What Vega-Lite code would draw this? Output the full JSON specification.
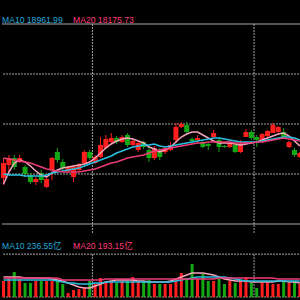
{
"$schema": "https://vega.github.io/schema/vega-lite/v6.json",
"background": "black",
"padding": 0,
"spacing": 0,
"config": {"view": {"stroke": null}, "scale": {"continuousPadding": 0}},
"datasets": {
"k": [
{"i":0,"d":"up","o":16920,"h":17320,"l":16780,"c":17220,"v":224,"m5":16800,"m10":17000,"m20":17320,"v5":280,"v10":238,"v20":266},
{"i":1,"d":"up","o":17180,"h":17380,"l":17040,"c":17320,"v":266,"m5":17040,"m10":16980,"m20":17300,"v5":280,"v10":238,"v20":266},
{"i":2,"d":"down","o":17320,"h":17380,"l":17080,"c":17140,"v":350,"m5":17220,"m10":16980,"m20":17280,"v5":280,"v10":238,"v20":266},
{"i":3,"d":"up","o":17240,"h":17380,"l":17220,"c":17320,"v":252,"m5":17280,"m10":16980,"m20":17260,"v5":280,"v10":238,"v20":266},
{"i":4,"d":"down","o":17140,"h":17180,"l":16940,"c":17000,"v":196,"m5":17240,"m10":16960,"m20":17240,"v5":266,"v10":238,"v20":266},
{"i":5,"d":"down","o":16980,"h":17020,"l":16800,"c":16840,"v":196,"m5":17160,"m10":16960,"m20":17220,"v5":266,"v10":238,"v20":266},
{"i":6,"d":"up","o":16840,"h":16940,"l":16780,"c":16900,"v":224,"m5":17060,"m10":16960,"m20":17180,"v5":266,"v10":238,"v20":266},
{"i":7,"d":"down","o":17020,"h":17080,"l":16820,"c":16880,"v":224,"m5":16980,"m10":16960,"m20":17140,"v5":266,"v10":238,"v20":266},
{"i":8,"d":"up","o":16740,"h":16940,"l":16720,"c":16900,"v":224,"m5":16940,"m10":16980,"m20":17100,"v5":266,"v10":238,"v20":266},
{"i":9,"d":"up","o":17080,"h":17340,"l":16880,"c":17320,"v":224,"m5":17020,"m10":17020,"m20":17080,"v5":252,"v10":238,"v20":266},
{"i":10,"d":"down","o":17440,"h":17520,"l":17220,"c":17280,"v":224,"m5":17080,"m10":17040,"m20":17060,"v5":238,"v10":224,"v20":266},
{"i":11,"d":"down","o":17240,"h":17300,"l":17080,"c":17120,"v":182,"m5":17120,"m10":17060,"m20":17040,"v5":224,"v10":210,"v20":238},
{"i":12,"d":"up","o":17060,"h":17160,"l":17020,"c":17140,"v":56,"m5":17140,"m10":17080,"m20":17040,"v5":196,"v10":196,"v20":238},
{"i":13,"d":"up","o":16940,"h":17180,"l":16840,"c":17140,"v":98,"m5":17160,"m10":17100,"m20":17040,"v5":168,"v10":196,"v20":238},
{"i":14,"d":"up","o":17080,"h":17220,"l":17040,"c":17180,"v":112,"m5":17180,"m10":17120,"m20":17040,"v5":140,"v10":182,"v20":238},
{"i":15,"d":"up","o":17220,"h":17480,"l":17180,"c":17440,"v":126,"m5":17200,"m10":17160,"m20":17060,"v5":126,"v10":182,"v20":238},
{"i":16,"d":"down","o":17440,"h":17480,"l":17280,"c":17320,"v":224,"m5":17240,"m10":17200,"m20":17080,"v5":126,"v10":182,"v20":238},
{"i":17,"d":"up","o":17220,"h":17380,"l":17200,"c":17340,"v":182,"m5":17320,"m10":17240,"m20":17100,"v5":154,"v10":196,"v20":238},
{"i":18,"d":"up","o":17340,"h":17740,"l":17320,"c":17580,"v":266,"m5":17420,"m10":17280,"m20":17140,"v5":182,"v10":196,"v20":238},
{"i":19,"d":"up","o":17520,"h":17780,"l":17500,"c":17700,"v":224,"m5":17520,"m10":17320,"m20":17180,"v5":210,"v10":210,"v20":252},
{"i":20,"d":"up","o":17640,"h":17820,"l":17620,"c":17720,"v":224,"m5":17600,"m10":17360,"m20":17220,"v5":224,"v10":210,"v20":252},
{"i":21,"d":"down","o":17720,"h":17760,"l":17600,"c":17640,"v":196,"m5":17660,"m10":17420,"m20":17240,"v5":238,"v10":210,"v20":252},
{"i":22,"d":"up","o":17640,"h":17780,"l":17620,"c":17740,"v":224,"m5":17700,"m10":17460,"m20":17280,"v5":238,"v10":210,"v20":252},
{"i":23,"d":"down","o":17780,"h":17820,"l":17540,"c":17580,"v":224,"m5":17720,"m10":17500,"m20":17320,"v5":238,"v10":210,"v20":252},
{"i":24,"d":"up","o":17580,"h":17700,"l":17560,"c":17660,"v":280,"m5":17700,"m10":17540,"m20":17340,"v5":238,"v10":210,"v20":252},
{"i":25,"d":"up","o":17480,"h":17660,"l":17440,"c":17620,"v":224,"m5":17660,"m10":17560,"m20":17360,"v5":224,"v10":210,"v20":252},
{"i":26,"d":"down","o":17640,"h":17660,"l":17500,"c":17540,"v":224,"m5":17620,"m10":17580,"m20":17380,"v5":224,"v10":210,"v20":252},
{"i":27,"d":"down","o":17480,"h":17540,"l":17240,"c":17320,"v":238,"m5":17540,"m10":17580,"m20":17420,"v5":210,"v10":210,"v20":252},
{"i":28,"d":"up","o":17320,"h":17560,"l":17280,"c":17520,"v":182,"m5":17500,"m10":17600,"m20":17460,"v5":210,"v10":210,"v20":252},
{"i":29,"d":"down","o":17480,"h":17520,"l":17280,"c":17340,"v":182,"m5":17440,"m10":17560,"m20":17480,"v5":210,"v10":210,"v20":252},
{"i":30,"d":"up","o":17440,"h":17540,"l":17400,"c":17520,"v":182,"m5":17480,"m10":17540,"m20":17500,"v5":210,"v10":210,"v20":252},
{"i":31,"d":"up","o":17480,"h":17640,"l":17460,"c":17580,"v":182,"m5":17540,"m10":17560,"m20":17520,"v5":224,"v10":210,"v20":252},
{"i":32,"d":"up","o":17680,"h":18020,"l":17620,"c":17940,"v":266,"m5":17640,"m10":17580,"m20":17540,"v5":252,"v10":224,"v20":252},
{"i":33,"d":"up","o":17940,"h":18040,"l":17920,"c":18000,"v":336,"m5":17740,"m10":17600,"m20":17560,"v5":280,"v10":238,"v20":252},
{"i":34,"d":"down","o":17980,"h":18040,"l":17820,"c":17840,"v":266,"m5":17800,"m10":17620,"m20":17580,"v5":308,"v10":252,"v20":252},
{"i":35,"d":"down","o":17700,"h":17740,"l":17620,"c":17660,"v":462,"m5":17840,"m10":17640,"m20":17600,"v5":336,"v10":266,"v20":252},
{"i":36,"d":"up","o":17680,"h":17780,"l":17620,"c":17720,"v":252,"m5":17840,"m10":17660,"m20":17620,"v5":336,"v10":280,"v20":252},
{"i":37,"d":"down","o":17640,"h":17660,"l":17520,"c":17540,"v":322,"m5":17780,"m10":17680,"m20":17620,"v5":336,"v10":280,"v20":252},
{"i":38,"d":"down","o":17600,"h":17620,"l":17480,"c":17560,"v":224,"m5":17720,"m10":17700,"m20":17640,"v5":322,"v10":280,"v20":252},
{"i":39,"d":"up","o":17740,"h":17880,"l":17720,"c":17820,"v":224,"m5":17660,"m10":17720,"m20":17640,"v5":308,"v10":280,"v20":252},
{"i":40,"d":"down","o":17680,"h":17740,"l":17440,"c":17540,"v":252,"m5":17620,"m10":17720,"m20":17640,"v5":280,"v10":280,"v20":266},
{"i":41,"d":"down","o":17560,"h":17580,"l":17520,"c":17540,"v":182,"m5":17620,"m10":17700,"m20":17640,"v5":252,"v10":280,"v20":266},
{"i":42,"d":"up","o":17540,"h":17680,"l":17520,"c":17620,"v":224,"m5":17620,"m10":17680,"m20":17640,"v5":238,"v10":266,"v20":266},
{"i":43,"d":"down","o":17580,"h":17600,"l":17420,"c":17440,"v":196,"m5":17600,"m10":17660,"m20":17620,"v5":224,"v10":252,"v20":266},
{"i":44,"d":"up","o":17440,"h":17680,"l":17420,"c":17580,"v":224,"m5":17580,"m10":17640,"m20":17620,"v5":224,"v10":238,"v20":266},
{"i":45,"d":"up","o":17740,"h":17900,"l":17740,"c":17840,"v":280,"m5":17600,"m10":17640,"m20":17620,"v5":224,"v10":224,"v20":266},
{"i":46,"d":"down","o":17840,"h":17880,"l":17680,"c":17720,"v":196,"m5":17620,"m10":17640,"m20":17620,"v5":210,"v10":224,"v20":266},
{"i":47,"d":"down","o":17740,"h":17780,"l":17540,"c":17680,"v":126,"m5":17640,"m10":17640,"m20":17640,"v5":210,"v10":224,"v20":266},
{"i":48,"d":"up","o":17680,"h":17820,"l":17620,"c":17800,"v":196,"m5":17680,"m10":17660,"m20":17640,"v5":210,"v10":224,"v20":266},
{"i":49,"d":"up","o":17760,"h":17880,"l":17720,"c":17860,"v":196,"m5":17720,"m10":17680,"m20":17660,"v5":210,"v10":224,"v20":266},
{"i":50,"d":"up","o":17820,"h":18020,"l":17820,"c":17980,"v":182,"m5":17760,"m10":17700,"m20":17680,"v5":210,"v10":224,"v20":266},
{"i":51,"d":"up","o":17840,"h":17960,"l":17820,"c":17940,"v":182,"m5":17800,"m10":17720,"m20":17700,"v5":224,"v10":224,"v20":252},
{"i":52,"d":"down","o":17840,"h":17920,"l":17720,"c":17720,"v":224,"m5":17820,"m10":17740,"m20":17720,"v5":224,"v10":224,"v20":252},
{"i":53,"d":"up","o":17540,"h":17660,"l":17520,"c":17640,"v":196,"m5":17760,"m10":17740,"m20":17700,"v5":210,"v10":224,"v20":252},
{"i":54,"d":"down","o":17480,"h":17520,"l":17340,"c":17380,"v":224,"m5":17660,"m10":17720,"m20":17680,"v5":210,"v10":224,"v20":252},
{"i":55,"d":"up","o":17340,"h":17440,"l":17320,"c":17420,"v":182,"m5":17560,"m10":17680,"m20":17660,"v5":196,"v10":224,"v20":252}
]
},
"vconcat": [
{
"width": 300, "height": 233,
"data": {"name": "k"},
"layer": [
{"data": {"values": [{"p": 19000}, {"p": 18000}, {"p": 17000}]},
 "mark": {"type": "rule", "color": "#a4a4a4", "strokeDash": [2, 1], "strokeWidth": 1},
 "encoding": {"y": {"field": "p", "type": "quantitative", "scale": {"domain": [15820, 20480], "nice": false, "zero": false}, "axis": null}}},
{"data": {"values": [{"p": 20000}, {"p": 16000}]},
 "mark": {"type": "rule", "color": "#a8a8a8", "strokeWidth": 1},
 "encoding": {"y": {"field": "p", "type": "quantitative", "scale": {"domain": [15820, 20480], "nice": false, "zero": false}, "axis": null}}},
{"data": {"values": [{"b": 16.5, "t": 20000, "u": 15820}, {"b": 46.5, "t": 20000, "u": 15820}]},
 "mark": {"type": "rule", "color": "#a4a4a4", "strokeDash": [2, 1], "strokeWidth": 1},
 "encoding": {"x": {"field": "b", "type": "quantitative", "scale": {"domain": [-0.28, 55.4], "nice": false, "zero": false, "padding": 0}, "axis": null},
   "y": {"field": "t", "type": "quantitative", "scale": {"domain": [15820, 20480], "nice": false, "zero": false}, "axis": null}, "y2": {"field": "u"}}},
{"mark": {"type": "rule", "strokeWidth": 1},
 "encoding": {"x": {"field": "i", "type": "quantitative", "scale": {"domain": [-0.28, 55.4], "nice": false, "zero": false, "padding": 0}, "axis": null},
   "y": {"field": "l", "type": "quantitative", "scale": {"domain": [15820, 20480], "nice": false, "zero": false}, "axis": null}, "y2": {"field": "h"},
   "color": {"field": "d", "type": "nominal", "scale": {"domain": ["up", "down"], "range": ["#ff1e1e", "#14a814"]}, "legend": null}}},
{"mark": {"type": "bar", "size": 5},
 "encoding": {"x": {"field": "i", "type": "quantitative", "scale": {"domain": [-0.28, 55.4], "nice": false, "zero": false, "padding": 0}, "axis": null},
   "y": {"field": "o", "type": "quantitative", "scale": {"domain": [15820, 20480], "nice": false, "zero": false}, "axis": null}, "y2": {"field": "c"},
   "color": {"field": "d", "type": "nominal", "scale": {"domain": ["up", "down"], "range": ["#ff1e1e", "#14a814"]}, "legend": null}}},
{"mark": {"type": "line", "color": "#f4a6bd", "strokeWidth": 1.5},
 "encoding": {"x": {"field": "i", "type": "quantitative", "scale": {"domain": [-0.28, 55.4], "nice": false, "zero": false, "padding": 0}, "axis": null},
   "y": {"field": "m5", "type": "quantitative", "scale": {"domain": [15820, 20480], "nice": false, "zero": false}, "axis": null}}},
{"mark": {"type": "line", "color": "#29c0e0", "strokeWidth": 1.5},
 "encoding": {"x": {"field": "i", "type": "quantitative", "scale": {"domain": [-0.28, 55.4], "nice": false, "zero": false, "padding": 0}, "axis": null},
   "y": {"field": "m10", "type": "quantitative", "scale": {"domain": [15820, 20480], "nice": false, "zero": false}, "axis": null}}},
{"mark": {"type": "line", "color": "#ec3c78", "strokeWidth": 1.5},
 "encoding": {"x": {"field": "i", "type": "quantitative", "scale": {"domain": [-0.28, 55.4], "nice": false, "zero": false, "padding": 0}, "axis": null},
   "y": {"field": "m20", "type": "quantitative", "scale": {"domain": [15820, 20480], "nice": false, "zero": false}, "axis": null}}},
{"data": {"values": [{"label": "MA10 18961.99", "s": "MA10", "px": -0.28, "py": 20080}, {"label": "MA20 18175.73", "s": "MA20", "px": 12.9, "py": 20080}]},
 "mark": {"type": "text", "align": "left", "baseline": "middle", "font": "Liberation Sans", "fontSize": 8.6},
 "encoding": {"x": {"field": "px", "type": "quantitative", "scale": {"domain": [-0.28, 55.4], "nice": false, "zero": false, "padding": 0}, "axis": null},
   "y": {"field": "py", "type": "quantitative", "scale": {"domain": [15820, 20480], "nice": false, "zero": false}, "axis": null},
   "text": {"field": "label"},
   "color": {"field": "s", "type": "nominal", "scale": {"domain": ["MA10", "MA20"], "range": ["#22acdc", "#ff3a7c"]}, "legend": null}}}
],
"resolve": {"scale": {"color": "independent"}}
},
{
"width": 300, "height": 67,
"data": {"name": "k"},
"layer": [
{"data": {"values": [{"p": 600}, {"p": 0}]},
 "mark": {"type": "rule", "color": "#a4a4a4", "strokeDash": [2, 1], "strokeWidth": 1},
 "encoding": {"y": {"field": "p", "type": "quantitative", "scale": {"domain": [-56, 882], "nice": false, "zero": false}, "axis": null}}},
{"data": {"values": [{"b": 16.5, "t": 600, "u": 0}, {"b": 46.5, "t": 600, "u": 0}]},
 "mark": {"type": "rule", "color": "#a4a4a4", "strokeDash": [2, 1], "strokeWidth": 1},
 "encoding": {"x": {"field": "b", "type": "quantitative", "scale": {"domain": [-0.28, 55.4], "nice": false, "zero": false, "padding": 0}, "axis": null},
   "y": {"field": "t", "type": "quantitative", "scale": {"domain": [-56, 882], "nice": false, "zero": false}, "axis": null}, "y2": {"field": "u"}}},
{"transform": [{"calculate": "0", "as": "base"}],
 "mark": {"type": "bar", "size": 3},
 "encoding": {"x": {"field": "i", "type": "quantitative", "scale": {"domain": [-0.28, 55.4], "nice": false, "zero": false, "padding": 0}, "axis": null},
   "y": {"field": "v", "type": "quantitative", "scale": {"domain": [-56, 882], "nice": false, "zero": false}, "axis": null}, "y2": {"field": "base"},
   "color": {"field": "d", "type": "nominal", "scale": {"domain": ["up", "down"], "range": ["#ff1e1e", "#14a814"]}, "legend": null}}},
{"mark": {"type": "line", "color": "#f4a6bd", "strokeWidth": 1.5},
 "encoding": {"x": {"field": "i", "type": "quantitative", "scale": {"domain": [-0.28, 55.4], "nice": false, "zero": false, "padding": 0}, "axis": null},
   "y": {"field": "v5", "type": "quantitative", "scale": {"domain": [-56, 882], "nice": false, "zero": false}, "axis": null}}},
{"mark": {"type": "line", "color": "#29c0e0", "strokeWidth": 1.5},
 "encoding": {"x": {"field": "i", "type": "quantitative", "scale": {"domain": [-0.28, 55.4], "nice": false, "zero": false, "padding": 0}, "axis": null},
   "y": {"field": "v10", "type": "quantitative", "scale": {"domain": [-56, 882], "nice": false, "zero": false}, "axis": null}}},
{"mark": {"type": "line", "color": "#ec3c78", "strokeWidth": 1.5},
 "encoding": {"x": {"field": "i", "type": "quantitative", "scale": {"domain": [-0.28, 55.4], "nice": false, "zero": false, "padding": 0}, "axis": null},
   "y": {"field": "v20", "type": "quantitative", "scale": {"domain": [-56, 882], "nice": false, "zero": false}, "axis": null}}},
{"data": {"values": [{"label": "MA10 236.55亿", "s": "MA10", "px": -0.28, "py": 714}, {"label": "MA20 193.15亿", "s": "MA20", "px": 12.9, "py": 714}]},
 "mark": {"type": "text", "align": "left", "baseline": "middle", "font": "Liberation Sans, Noto Sans CJK SC", "fontSize": 8.6},
 "encoding": {"x": {"field": "px", "type": "quantitative", "scale": {"domain": [-0.28, 55.4], "nice": false, "zero": false, "padding": 0}, "axis": null},
   "y": {"field": "py", "type": "quantitative", "scale": {"domain": [-56, 882], "nice": false, "zero": false}, "axis": null},
   "text": {"field": "label"},
   "color": {"field": "s", "type": "nominal", "scale": {"domain": ["MA10", "MA20"], "range": ["#22acdc", "#ff3a7c"]}, "legend": null}}}
],
"resolve": {"scale": {"color": "independent"}}
}
]
}
